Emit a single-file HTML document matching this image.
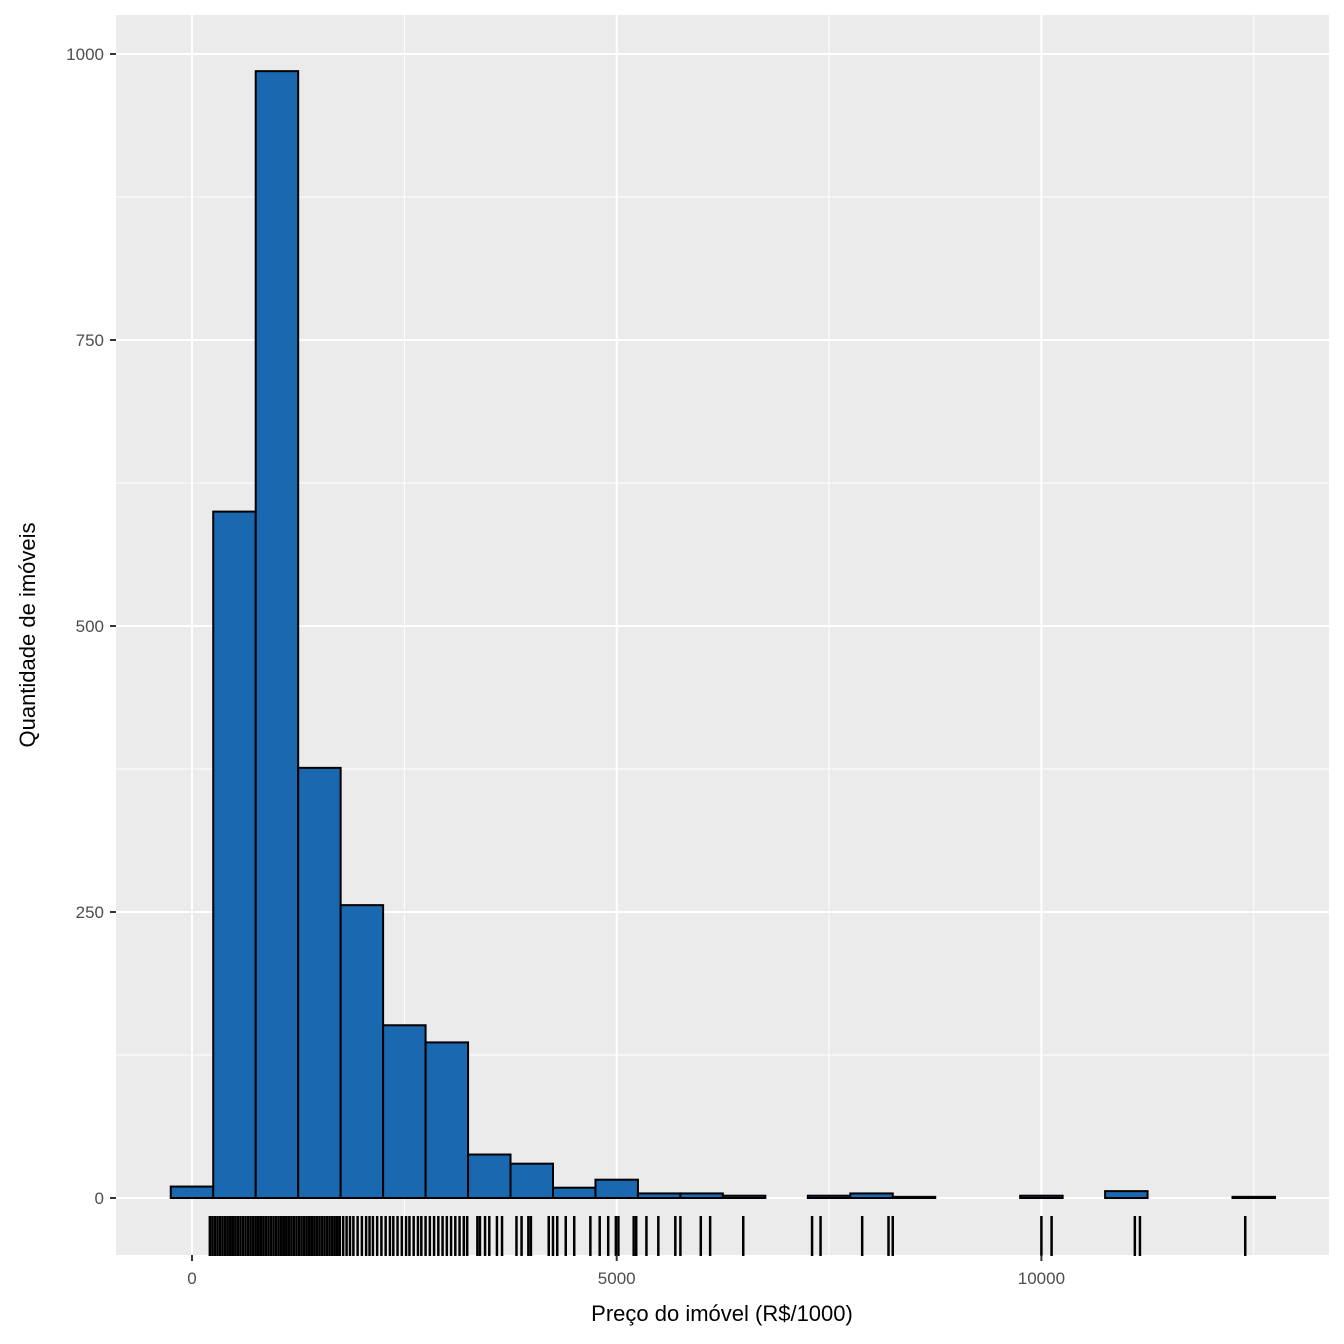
<!DOCTYPE html>
<html><head><meta charset="utf-8"><style>
body{margin:0;background:#fff}
svg{display:block;font-family:"Liberation Sans",sans-serif}
</style></head><body>
<svg id="chart" width="1344" height="1344">
<rect x="116" y="15" width="1213" height="1240" fill="#ebebeb"/>
<g id="grid"></g><g id="bars"></g><g id="rug"></g><g id="axes"></g>
<text x="722" y="1321" font-size="22" text-anchor="middle" fill="#000">Preço do imóvel (R$/1000)</text>
<text transform="translate(35,635) rotate(-90)" font-size="22" text-anchor="middle" fill="#000">Quantidade de imóveis</text>
</svg>
<script>
const binCenters=[0,500,1000,1500,2000,2500,3000,3500,4000,4500,5000,5500,6000,6500,7000,7500,8000,8500,9000,9500,10000,10500,11000,11500,12000,12500];
const counts=[10,600,985,376,256,151,136,38,30,9,16,4,4,2,0,2,4,1,0,0,2,0,6,0,0,1];
const yTicks=[0,250,500,750,1000];
const xTicks=[0,5000,10000];
const rugValues=[210,240,270,300,330,360,390,420,450,480,510,540,570,600,630,660,690,720,750,780,810,840,870,900,930,960,990,1020,1050,1080,1110,1140,1170,1200,1230,1260,1290,1320,1350,1380,1410,1440,1470,1500,1530,1560,1590,1620,1650,1680,1710,1740,1780,1820,1860,1900,1950,2000,2050,2090,2130,2180,2230,2280,2330,2370,2420,2470,2520,2560,2610,2660,2700,2750,2800,2850,2900,2950,3000,3050,3100,3150,3200,3240,3360,3390,3450,3500,3590,3650,3820,3880,3960,3990,4200,4250,4300,4400,4500,4690,4800,4900,4990,5020,5200,5230,5350,5490,5690,5750,5990,6100,6490,7300,7400,7890,8200,8250,10000,10120,11100,11160,12400];
const X=v=>192+(v)*0.08494, Y=v=>1198-v*1.144;
const NS='http://www.w3.org/2000/svg';
function mk(p,t,a){const e=document.createElementNS(NS,t);for(const k in a)e.setAttribute(k,a[k]);p.appendChild(e);return e;}
const grid=document.getElementById('grid');
yTicks.forEach((t,i)=>{
  if(i<yTicks.length-1){const m=mk(grid,'line',{x1:116,x2:1329,y1:Y(t+125),y2:Y(t+125),stroke:'#fff','stroke-width':1});
  
  }
  const g=mk(grid,'line',{x1:116,x2:1329,y1:Y(t),y2:Y(t),stroke:'#fff','stroke-width':2});
  
  
});
[2500,7500,12500].forEach(t=>{const m=mk(grid,'line',{x1:X(t),x2:X(t),y1:15,y2:1255,stroke:'#fff','stroke-width':1});
  
  });
xTicks.forEach(t=>{const g=mk(grid,'line',{x1:X(t),x2:X(t),y1:15,y2:1255,stroke:'#fff','stroke-width':2});
  
  });
const bars=document.getElementById('bars');
binCenters.forEach((c,i)=>{
  const x0=X(c-250),x1=X(c+250);
  const r=mk(bars,'rect',{x:x0,y:Y(counts[i]),width:x1-x0,height:Math.max(0,Y(0)-Y(counts[i])),fill:'#1a68b0',stroke:'#000','stroke-width':2});
  
  
});
const rug=document.getElementById('rug');
rugValues.forEach(v=>{const l=mk(rug,'line',{x1:X(v),x2:X(v),y1:1216,y2:1256,stroke:'#000','stroke-width':2.5});
  
  });
const axes=document.getElementById('axes');
yTicks.forEach(t=>{
  const l=mk(axes,'line',{x1:110,x2:116,y1:Y(t),y2:Y(t),stroke:'#333','stroke-width':2});
  
  
  const tx=mk(axes,'text',{x:104,y:Y(t)+6,'font-size':17,'text-anchor':'end',fill:'#4d4d4d'});tx.textContent=t;
  
  
});
xTicks.forEach(t=>{
  const l=mk(axes,'line',{x1:X(t),x2:X(t),y1:1255,y2:1261,stroke:'#333','stroke-width':2});
  
  
  const tx=mk(axes,'text',{x:X(t),y:1284,'font-size':17,'text-anchor':'middle',fill:'#4d4d4d'});tx.textContent=t;
  
  
});
</script>
</body></html>
